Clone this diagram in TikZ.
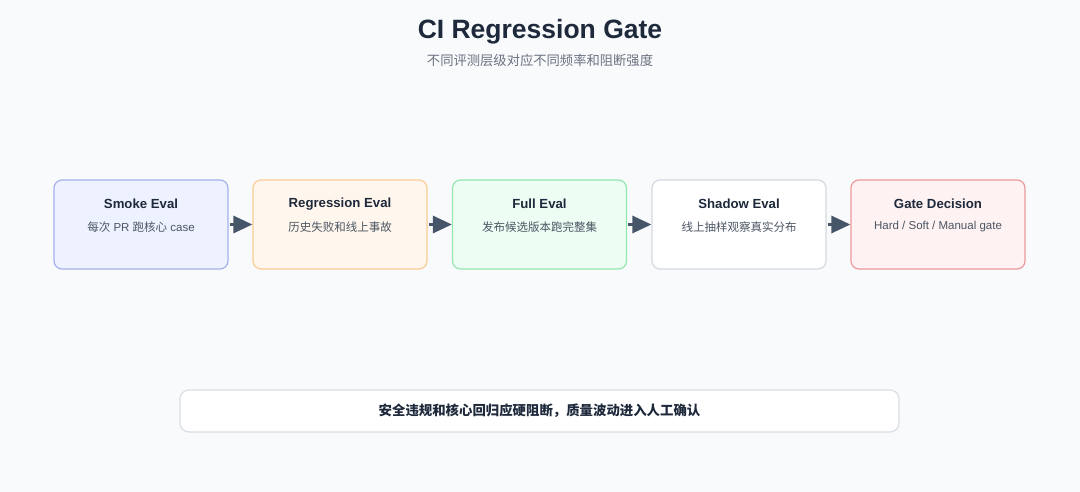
\documentclass[tikz,border=0pt]{standalone}
\usepackage{fontspec}
\setmainfont{Liberation Sans}
\newfontfamily\cjk{Noto Sans CJK SC}
\usetikzlibrary{arrows.meta}
\definecolor{bg}{HTML}{F8FAFC}
\definecolor{ink}{HTML}{1E293B}
\definecolor{sub}{HTML}{4B5563}
\definecolor{muted}{HTML}{6B7280}
\definecolor{arr}{HTML}{475569}
\definecolor{f1}{HTML}{EEF2FF}\definecolor{b1}{HTML}{A5B0EC}
\definecolor{f2}{HTML}{FFF7ED}\definecolor{b2}{HTML}{FBCB94}
\definecolor{f3}{HTML}{ECFDF3}\definecolor{b3}{HTML}{96E6B0}
\definecolor{f4}{HTML}{FFFFFF}\definecolor{b4}{HTML}{D4D9E0}
\definecolor{f5}{HTML}{FEF2F2}\definecolor{b5}{HTML}{EB9A9A}
\definecolor{nb}{HTML}{D9DFE6}
\tikzset{
  stage/.style={draw=#1, line width=1.2pt, rounded corners=8pt, minimum width=174pt, minimum height=89pt, inner sep=0pt},
  stitle/.style={font=\bfseries\fontsize{13.2}{15}\selectfont, text=ink},
  ssub/.style={font=\fontsize{11.5}{13}\selectfont, text=sub},
  csub/.style={font=\cjk\fontsize{11.5}{13}\selectfont, text=sub},
  flow/.style={draw=arr, line width=3pt, -{Triangle[length=19pt,width=17pt]}, shorten <=1pt, shorten >=0pt}
}
\begin{document}
\begin{tikzpicture}[x=1pt,y=-1pt]
\fill[bg] (0,0) rectangle (1080,492);
\useasboundingbox (0,0) rectangle (1080,492);
\node[font=\bfseries\fontsize{26.5}{30}\selectfont, text=ink] (title) at (540,32) {CI Regression Gate};
\node[font=\cjk\fontsize{13.3}{15}\selectfont, text=muted] (subtitle) at (540,60) {不同评测层级对应不同频率和阻断强度};

\node[stage=b1, fill=f1] (s1) at (141,224.5) {};
\node[stage=b2, fill=f2] (s2) at (340,224.5) {};
\node[stage=b3, fill=f3] (s3) at (539.5,224.5) {};
\node[stage=b4, fill=f4] (s4) at (739,224.5) {};
\node[stage=b5, fill=f5] (s5) at (938,224.5) {};

\node[stitle] (t1) at (141,204) {Smoke Eval};
\node[ssub] (u1) at (141,227) {{\cjk 每次} PR {\cjk 跑核心} case};
\node[stitle] (t2) at (340,204) {Regression Eval};
\node[csub] (u2) at (340,227) {历史失败和线上事故};
\node[stitle] (t3) at (539.5,204) {Full Eval};
\node[csub] (u3) at (539.5,227) {发布候选版本跑完整集};
\node[stitle] (t4) at (739,204) {Shadow Eval};
\node[csub] (u4) at (739,227) {线上抽样观察真实分布};
\node[stitle] (t5) at (938,204) {Gate Decision};
\node[ssub] (u5) at (938,227) {Hard / Soft / Manual gate};

\draw[flow] (s1) -- (s2);
\draw[flow] (s2) -- (s3);
\draw[flow] (s3) -- (s4);
\draw[flow] (s4) -- (s5);

\node[draw=nb, line width=1.2pt, fill=white, rounded corners=9pt, minimum width=719pt, minimum height=42pt] (note) at (539.5,411) {};
\node[font=\cjk\bfseries\fontsize{13.4}{15}\selectfont, text=ink] (notetext) at (539.5,411) {安全违规和核心回归应硬阻断，质量波动进入人工确认};
\end{tikzpicture}
\end{document}
